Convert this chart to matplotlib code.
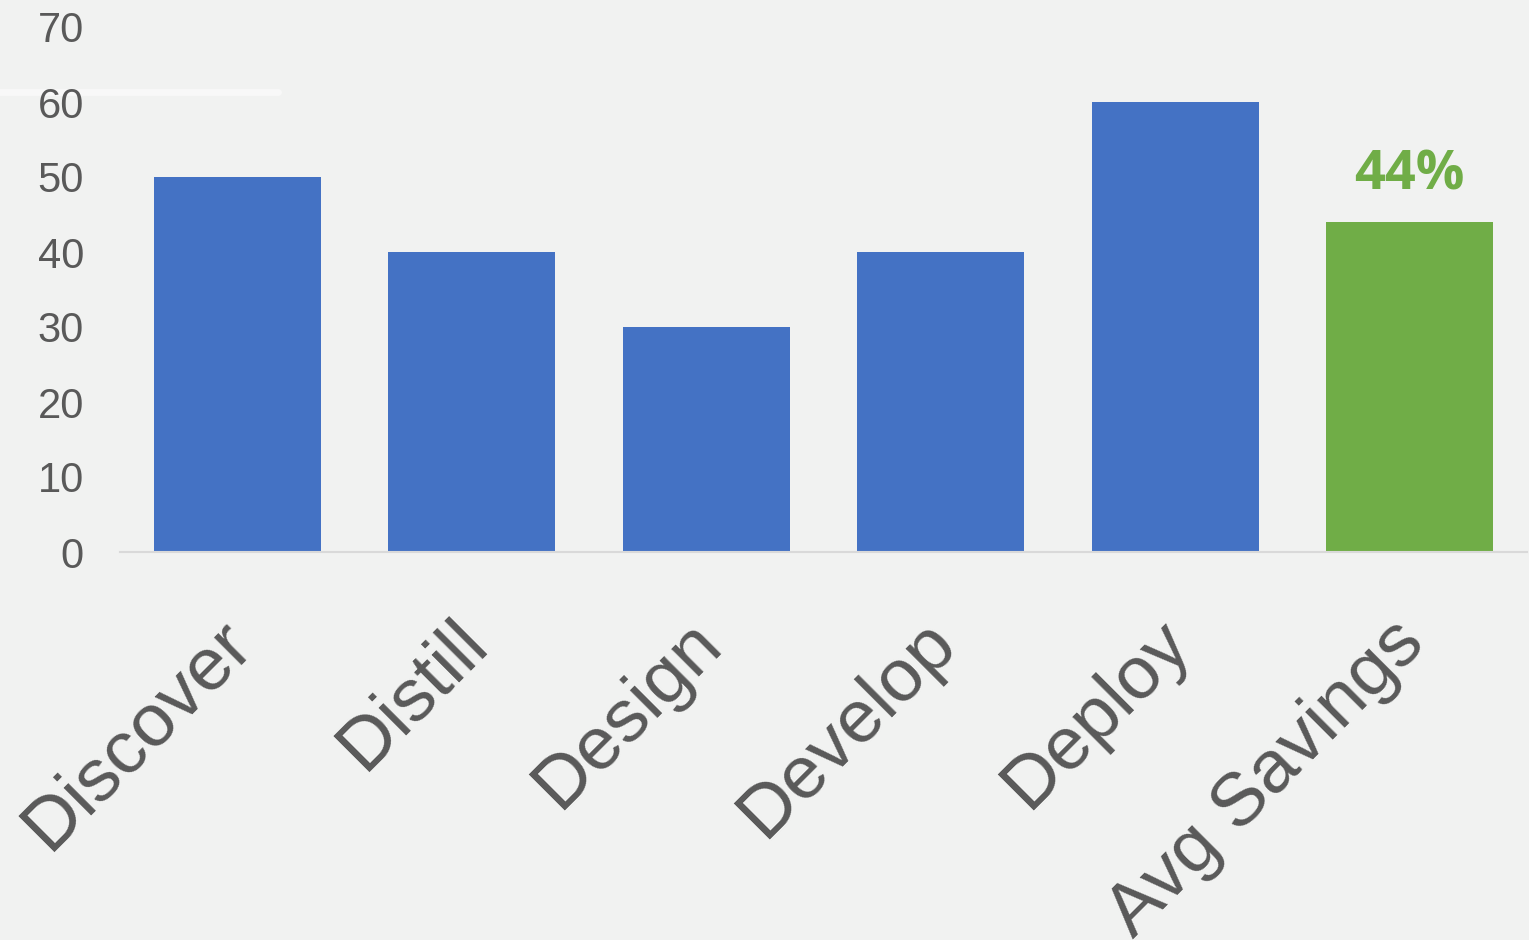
import matplotlib
matplotlib.use("Agg")
import matplotlib.pyplot as plt
from matplotlib.lines import Line2D
import matplotlib.transforms as mtransforms

categories = ["Discover", "Distill", "Design", "Develop", "Deploy", "Avg Savings"]
values = [50, 40, 30, 40, 60, 44]
bar_colors = ["#4472C4", "#4472C4", "#4472C4", "#4472C4", "#4472C4", "#70AD47"]
yticks = [0, 10, 20, 30, 40, 50, 60, 70]
highlight_label = "44%"

bg = "#f1f2f1"
txt = "#595959"

fig = plt.figure(figsize=(15.29, 9.40), dpi=100, facecolor=bg)
ax = fig.add_axes([120/1529, 1-552/940, (1527-120)/1529, (552-27)/940])
ax.set_facecolor("none")

x = list(range(len(categories)))
ax.bar(x, values, width=0.713, color=bar_colors, zorder=2)

ax.set_xlim(-0.5, 5.5)
ax.set_ylim(0, 70)
ax.set_yticks(yticks)
ax.set_yticklabels([str(v) for v in yticks], fontsize=30, color=txt, family="Liberation Sans")
ax.tick_params(axis="y", length=0, pad=26)
ax.tick_params(axis="x", length=0, pad=14)
ax.set_xticks(x)
ax.set_xticklabels(categories, rotation=45, ha="right", va="center", rotation_mode="anchor",
                   fontsize=54, color=txt, family="Liberation Sans")
for lbl in ax.get_xticklabels():
    lbl.set_transform(lbl.get_transform() + mtransforms.ScaledTranslation(0.04, -0.60, fig.dpi_scale_trans))

for s in ["top", "right", "left"]:
    ax.spines[s].set_visible(False)
ax.spines["bottom"].set_color("#d9d9d9")
ax.spines["bottom"].set_linewidth(1.5)

ax.annotate(highlight_label, xy=(5, values[5]), xytext=(0, 14), textcoords="offset points",
            ha="center", va="bottom", fontsize=39, fontweight="bold", color="#70AD47", family="Open Sans")

fig.add_artist(Line2D([0, 278/1529], [1-92/940, 1-92/940], color="#f8f8f8", lw=5,
                      solid_capstyle="round", transform=fig.transFigure, zorder=-1))

fig.savefig("out.png", dpi=100, facecolor=bg)
